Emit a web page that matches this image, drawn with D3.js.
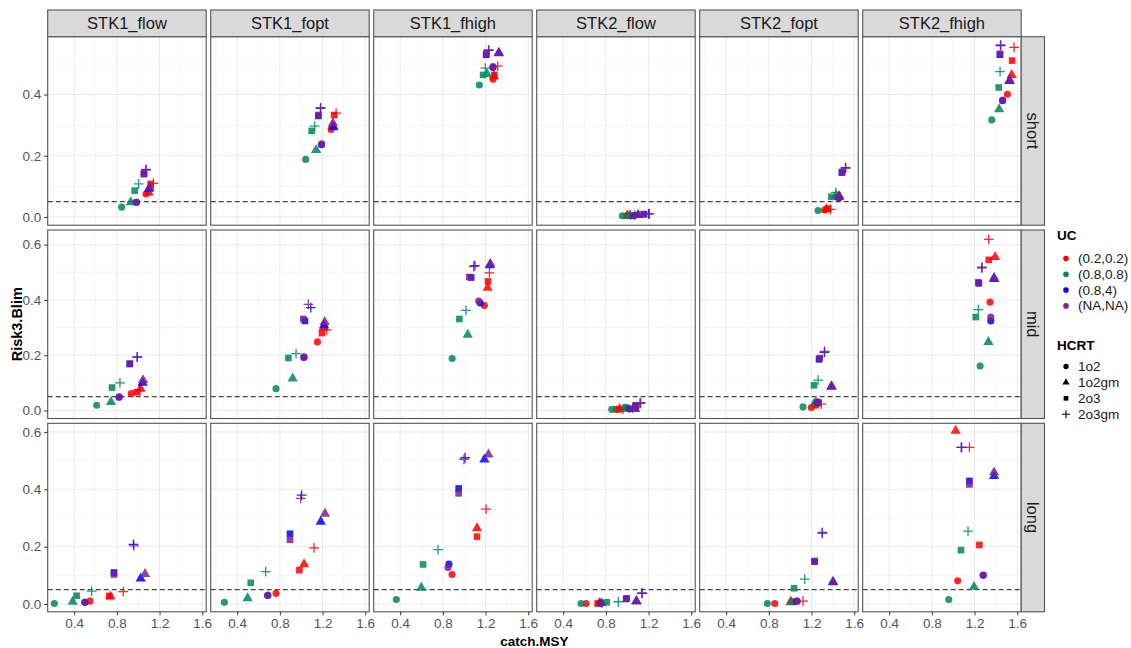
<!DOCTYPE html>
<html>
<head>
<meta charset="utf-8">
<script src="https://cdn.jsdelivr.net/npm/d3@7"></script>
<style>
  body { margin: 0; background: #fff; }
  text { font-family: "Liberation Sans", Arial, sans-serif; }
</style>
</head>
<body>
<svg id="drawing_region"></svg>
<script>
// facets
const stocks = ["STK1_flow", "STK1_fopt", "STK1_fhigh", "STK2_flow", "STK2_fopt", "STK2_fhigh"];
const periods = ["short", "mid", "long"];
const ucLevels = ["(0.2,0.2)", "(0.8,0.8)", "(0.8,4)", "(NA,NA)"];
const hcrtLevels = ["1o2", "1o2gm", "2o3", "2o3gm"];
const xTicks = [0.4, 0.8, 1.2, 1.6];
const yTicksByRow = [[0, 0.2, 0.4], [0, 0.2, 0.4, 0.6], [0, 0.2, 0.4, 0.6]];
const blim = 0.05;

// each panel: 16 [catch.MSY, Risk3.Blim] pairs, UC-major, HCRT inside (1o2, 1o2gm, 2o3, 2o3gm)
const stk1FlowShort = [
  [1.073,0.075],[1.098,0.080],[1.117,0.108],[1.142,0.110],
  [0.845,0.032],[0.930,0.048],[0.967,0.086],[1.004,0.108],
  [0.985,0.048],[1.102,0.092],[1.054,0.140],[1.073,0.154],
  [0.980,0.048],[1.106,0.096],[1.054,0.142],[1.075,0.155]];
const stk1FoptShort = [
  [1.280,0.286],[1.296,0.297],[1.308,0.333],[1.327,0.339],
  [1.042,0.188],[1.140,0.219],[1.098,0.281],[1.126,0.297],
  [1.190,0.236],[1.302,0.293],[1.160,0.330],[1.180,0.355],
  [1.192,0.239],[1.298,0.306],[1.161,0.333],[1.183,0.357]];
const stk1FhighShort = [
  [1.270,0.450],[1.280,0.460],[1.283,0.464],[1.314,0.493],
  [1.142,0.431],[1.214,0.467],[1.177,0.464],[1.198,0.486],
  [1.270,0.488],[1.323,0.535],[1.205,0.530],[1.228,0.544],
  [1.270,0.491],[1.325,0.537],[1.208,0.533],[1.230,0.546]];
const stk2FlowShort = [
  [0.995,0.004],[1.000,0.005],[1.010,0.004],[1.030,0.006],
  [0.955,0.004],[1.020,0.004],[1.050,0.005],[1.070,0.006],
  [1.060,0.004],[1.100,0.006],[1.155,0.009],[1.200,0.010],
  [1.065,0.004],[1.105,0.006],[1.158,0.009],[1.208,0.010]];
const stk2FoptShort = [
  [1.323,0.023],[1.340,0.025],[1.355,0.027],[1.377,0.025],
  [1.261,0.021],[1.430,0.070],[1.386,0.066],[1.427,0.080],
  [1.455,0.062],[1.458,0.066],[1.484,0.145],[1.518,0.160],
  [1.450,0.064],[1.460,0.068],[1.486,0.147],[1.520,0.161]];
const stk2FhighShort = [
  [1.508,0.401],[1.548,0.464],[1.552,0.511],[1.570,0.554],
  [1.361,0.317],[1.430,0.352],[1.427,0.423],[1.439,0.475],
  [1.462,0.380],[1.527,0.444],[1.437,0.530],[1.443,0.560],
  [1.464,0.382],[1.530,0.447],[1.439,0.533],[1.445,0.562]];

const stk1FlowMid = [
  [0.935,0.061],[1.020,0.079],[0.985,0.066],[1.017,0.071],
  [0.611,0.019],[0.745,0.031],[0.755,0.083],[0.829,0.100],
  [0.820,0.048],[1.042,0.100],[0.920,0.168],[0.990,0.193],
  [0.823,0.049],[1.045,0.110],[0.923,0.170],[0.992,0.194]];
const stk1FoptMid = [
  [1.152,0.248],[1.210,0.300],[1.195,0.280],[1.240,0.292],
  [0.764,0.079],[0.920,0.116],[0.880,0.190],[0.952,0.206],
  [1.025,0.192],[1.214,0.308],[1.035,0.324],[1.090,0.372],
  [1.027,0.194],[1.220,0.320],[1.020,0.331],[1.067,0.384]];
const stk1FhighMid = [
  [1.189,0.380],[1.220,0.444],[1.223,0.467],[1.236,0.498],
  [0.887,0.188],[1.033,0.274],[0.955,0.331],[1.017,0.362],
  [1.150,0.389],[1.240,0.525],[1.065,0.481],[1.100,0.524],
  [1.136,0.396],[1.245,0.531],[1.048,0.483],[1.089,0.521]];
const stk2FlowMid = [
  [0.895,0.004],[0.930,0.006],[0.927,0.004],[0.960,0.005],
  [0.855,0.004],[0.980,0.006],[0.989,0.011],[1.050,0.008],
  [1.020,0.006],[1.070,0.006],[1.080,0.017],[1.120,0.026],
  [1.025,0.006],[1.075,0.006],[1.083,0.019],[1.127,0.028]];
const stk2FoptMid = [
  [1.198,0.011],[1.245,0.025],[1.239,0.019],[1.292,0.023],
  [1.120,0.013],[1.230,0.028],[1.223,0.091],[1.261,0.110],
  [1.258,0.029],[1.385,0.086],[1.270,0.185],[1.320,0.210],
  [1.261,0.031],[1.389,0.088],[1.277,0.190],[1.323,0.214]];
const stk2FhighMid = [
  [1.345,0.392],[1.392,0.555],[1.333,0.545],[1.333,0.619],
  [1.252,0.161],[1.330,0.248],[1.211,0.338],[1.236,0.365],
  [1.352,0.324],[1.383,0.476],[1.240,0.460],[1.268,0.516],
  [1.352,0.338],[1.383,0.480],[1.236,0.464],[1.270,0.519]];

const stk1FlowLong = [
  [0.548,0.010],[0.740,0.026],[0.729,0.028],[0.860,0.043],
  [0.214,0.002],[0.386,0.008],[0.423,0.029],[0.564,0.045],
  [0.500,0.006],[1.023,0.089],[0.773,0.110],[0.955,0.208],
  [0.501,0.006],[1.064,0.105],[0.773,0.103],[0.960,0.203]];
const stk1FoptLong = [
  [0.764,0.037],[1.027,0.139],[0.983,0.118],[1.120,0.196],
  [0.280,0.006],[0.498,0.020],[0.527,0.074],[0.667,0.113],
  [0.685,0.030],[1.183,0.287],[0.895,0.245],[1.004,0.380],
  [0.689,0.031],[1.223,0.315],[0.895,0.224],[0.995,0.368]];
const stk1FhighLong = [
  [0.886,0.103],[1.120,0.264],[1.120,0.235],[1.205,0.331],
  [0.364,0.016],[0.598,0.057],[0.614,0.138],[0.755,0.190],
  [0.857,0.139],[1.189,0.504],[0.948,0.403],[1.008,0.510],
  [0.848,0.127],[1.227,0.521],[0.948,0.386],[0.998,0.504]];
const stk2FlowLong = [
  [0.614,0.002],[0.740,0.004],[0.723,0.002],[0.760,0.003],
  [0.567,0.002],[0.760,0.003],[0.808,0.006],[0.917,0.008],
  [0.750,0.003],[1.085,0.010],[0.990,0.018],[1.138,0.037],
  [0.755,0.003],[1.089,0.010],[0.995,0.020],[1.142,0.039]];
const stk2FoptLong = [
  [0.855,0.002],[1.005,0.008],[1.027,0.008],[1.120,0.010],
  [0.786,0.002],[1.010,0.006],[1.036,0.055],[1.136,0.087],
  [1.060,0.010],[1.400,0.076],[1.228,0.148],[1.300,0.247],
  [1.067,0.010],[1.402,0.078],[1.230,0.150],[1.302,0.250]];
const stk2FhighLong = [
  [1.042,0.081],[1.023,0.604],[1.245,0.206],[1.152,0.546],
  [0.958,0.016],[1.195,0.060],[1.073,0.188],[1.139,0.254],
  [1.280,0.100],[1.383,0.446],[1.152,0.429],[1.075,0.546],
  [1.283,0.101],[1.383,0.459],[1.152,0.417],[1.080,0.546]];

const panelRows = [
  [stk1FlowShort, stk1FoptShort, stk1FhighShort, stk2FlowShort, stk2FoptShort, stk2FhighShort],
  [stk1FlowMid, stk1FoptMid, stk1FhighMid, stk2FlowMid, stk2FoptMid, stk2FhighMid],
  [stk1FlowLong, stk1FoptLong, stk1FhighLong, stk2FlowLong, stk2FoptLong, stk2FhighLong]
];

const config = {
  width: 1131, height: 648,
  left: 47.7, top: 36.7,
  panelW: 158.5, panelH: 188.5,
  gapX: 4.5, gapY: 4.8,
  stripH: 26.7, stripW: 23.3
};

const ucColor = d3.scaleOrdinal().domain(ucLevels).range(["#ff0000", "#00875a", "#0000ff", "#7b1f96"]);
const yDomains = [[-0.027, 0.589], [-0.029, 0.653], [-0.027, 0.630]];

const x = d3.scaleLinear().domain([0.152, 1.637]).range([0, config.panelW]);

const svg = d3.select("#drawing_region")
  .attr("width", config.width)
  .attr("height", config.height);

svg.append("rect").attr("width", config.width).attr("height", config.height).attr("fill", "#fff");

function shapePath(hcrt) {
  if (hcrt === "1o2") return d3.symbol(d3.symbolCircle, 40)();
  if (hcrt === "1o2gm") return d3.symbol(d3.symbolTriangle, 46)();
  if (hcrt === "2o3") return d3.symbol(d3.symbolSquare, 44)();
  return "M-4.9,0H4.9M0,-4.9V4.9";
}

function drawPoint(g, hcrt, color) {
  const p = g.append("path").attr("d", shapePath(hcrt));
  if (hcrt === "2o3gm") p.attr("fill", "none").attr("stroke", color).attr("stroke-width", 1.3);
  else p.attr("fill", color);
  return p;
}

const gridColor = "#ebebeb";
const borderColor = "#555";
const tickFont = "Liberation Sans, Arial, sans-serif";

periods.forEach((period, r) => {
  const y = d3.scaleLinear().domain(yDomains[r]).range([config.panelH, 0]);
  const yTicks = yTicksByRow[r];
  const yMinor = d3.range(0, yTicks.length - 1).map(i => (yTicks[i] + yTicks[i + 1]) / 2)
    .concat([yTicks[yTicks.length - 1] + 0.1]).filter(v => v < yDomains[r][1]);
  const xMinor = [0.2, 0.6, 1.0, 1.4];
  const py = config.top + r * (config.panelH + config.gapY);

  stocks.forEach((stock, c) => {
    const px = config.left + c * (config.panelW + config.gapX);
    const g = svg.append("g").attr("transform", `translate(${px},${py})`);

    g.append("rect").attr("width", config.panelW).attr("height", config.panelH).attr("fill", "#fff");

    // grid
    g.selectAll(".xminor").data(xMinor.filter(v => x(v) > 0)).enter().append("line")
      .attr("x1", d => x(d)).attr("x2", d => x(d)).attr("y1", 0).attr("y2", config.panelH)
      .attr("stroke", "#f4f4f4").attr("stroke-width", 0.6);
    g.selectAll(".yminor").data(yMinor).enter().append("line")
      .attr("x1", 0).attr("x2", config.panelW).attr("y1", d => y(d)).attr("y2", d => y(d))
      .attr("stroke", "#f4f4f4").attr("stroke-width", 0.6);
    g.selectAll(".xmajor").data(xTicks).enter().append("line")
      .attr("x1", d => x(d)).attr("x2", d => x(d)).attr("y1", 0).attr("y2", config.panelH)
      .attr("stroke", gridColor).attr("stroke-width", 1);
    g.selectAll(".ymajor").data(yTicks).enter().append("line")
      .attr("x1", 0).attr("x2", config.panelW).attr("y1", d => y(d)).attr("y2", d => y(d))
      .attr("stroke", gridColor).attr("stroke-width", 1);

    // Blim reference
    g.append("line")
      .attr("x1", 0).attr("x2", config.panelW)
      .attr("y1", y(blim)).attr("y2", y(blim))
      .attr("stroke", "#444").attr("stroke-width", 1.2).attr("stroke-dasharray", "5,3");

    // points
    const pts = panelRows[r][c].map((d, i) => ({
      uc: ucLevels[Math.floor(i / 4)], hcrt: hcrtLevels[i % 4], cx: d[0], ry: d[1]
    }));
    pts.forEach(d => {
      drawPoint(g, d.hcrt, ucColor(d.uc))
        .attr("transform", `translate(${x(d.cx)},${y(d.ry)})`)
        .attr("opacity", 0.85);
    });

    g.append("rect").attr("width", config.panelW).attr("height", config.panelH)
      .attr("fill", "none").attr("stroke", borderColor).attr("stroke-width", 1.1);

    // column strips
    if (r === 0) {
      const s = svg.append("g").attr("transform", `translate(${px},${py - config.stripH})`);
      s.append("rect").attr("width", config.panelW).attr("height", config.stripH)
        .attr("fill", "#d9d9d9").attr("stroke", borderColor).attr("stroke-width", 1.1);
      s.append("text").attr("x", config.panelW / 2).attr("y", config.stripH / 2 + 6)
        .attr("text-anchor", "middle").attr("font-size", 16.5).attr("fill", "#1a1a1a").text(stock);
    }

    // y axis on first column
    if (c === 0) {
      const ax = g.append("g").call(d3.axisLeft(y).tickValues(yTicks).tickFormat(d3.format(".1f")).tickSize(3.5));
      ax.select(".domain").remove();
      ax.selectAll("line").attr("stroke", "#333");
      ax.selectAll("text").attr("font-size", 13.5).attr("fill", "#555").attr("font-family", tickFont);
    }

    // x axis on bottom row
    if (r === periods.length - 1) {
      const ax = g.append("g").attr("transform", `translate(0,${config.panelH})`)
        .call(d3.axisBottom(x).tickValues(xTicks).tickFormat(d3.format(".1f")).tickSize(3.5));
      ax.select(".domain").remove();
      ax.selectAll("line").attr("stroke", "#333");
      ax.selectAll("text").attr("font-size", 13.5).attr("fill", "#555").attr("font-family", tickFont);
    }
  });

  // row strip
  const sx = config.left + stocks.length * (config.panelW + config.gapX) - config.gapX;
  const rs = svg.append("g").attr("transform", `translate(${sx},${py})`);
  rs.append("rect").attr("width", config.stripW).attr("height", config.panelH)
    .attr("fill", "#d9d9d9").attr("stroke", borderColor).attr("stroke-width", 1.1);
  rs.append("text").attr("transform", `translate(${config.stripW / 2 - 6},${config.panelH / 2}) rotate(90)`)
    .attr("text-anchor", "middle").attr("font-size", 16.5).attr("fill", "#1a1a1a").text(period);
});

// axis titles
const gridRight = config.left + stocks.length * (config.panelW + config.gapX) - config.gapX;
const gridBottom = config.top + 3 * config.panelH + 2 * config.gapY;
svg.append("text").attr("x", (config.left + gridRight) / 2).attr("y", 646)
  .attr("text-anchor", "middle").attr("font-size", 13.5).attr("font-weight", "bold").text("catch.MSY");
svg.append("text").attr("transform", `translate(22,${(config.top + gridBottom) / 2}) rotate(-90)`)
  .attr("text-anchor", "middle").attr("font-size", 14.5).attr("font-weight", "bold").text("Risk3.Blim");

// legends
const leg = svg.append("g").attr("transform", "translate(1057,0)");
leg.append("text").attr("x", 0).attr("y", 240).attr("font-size", 13.5).attr("font-weight", "bold").text("UC");
ucLevels.forEach((u, i) => {
  const yy = 258.5 + i * 15.8;
  leg.append("circle").attr("cx", 9).attr("cy", yy).attr("r", 2.8).attr("fill", ucColor(u));
  leg.append("text").attr("x", 21).attr("y", yy + 4.5).attr("font-size", 13.5).attr("fill", "#1a1a1a").text(u);
});
leg.append("text").attr("x", 0).attr("y", 350).attr("font-size", 13.5).attr("font-weight", "bold").text("HCRT");
hcrtLevels.forEach((h, i) => {
  const yy = 366.5 + i * 15.9;
  const p = leg.append("path").attr("transform", `translate(9,${yy})`);
  if (h === "2o3gm") p.attr("d", "M-4,0H4M0,-4V4").attr("stroke", "#000").attr("stroke-width", 1.1).attr("fill", "none");
  else p.attr("d", d3.symbol(h === "1o2" ? d3.symbolCircle : h === "1o2gm" ? d3.symbolTriangle : d3.symbolSquare, 22)()).attr("fill", "#000");
  leg.append("text").attr("x", 21).attr("y", yy + 4.5).attr("font-size", 13.5).attr("fill", "#1a1a1a").text(h);
});
</script>
</body>
</html>
